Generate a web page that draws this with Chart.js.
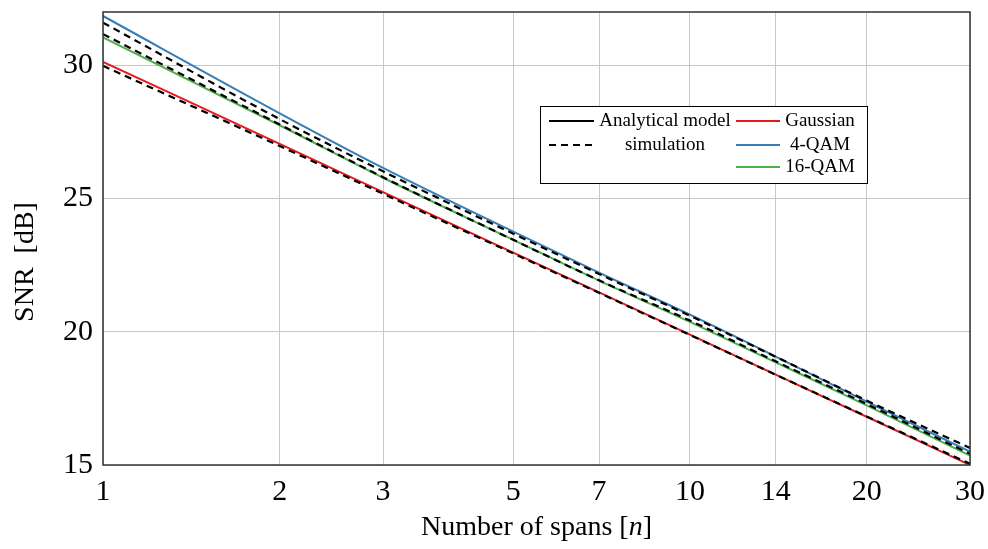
<!DOCTYPE html>
<html>
<head>
<meta charset="utf-8">
<script src="https://cdn.jsdelivr.net/npm/chart.js@4.4.1/dist/chart.umd.min.js"></script>
<style>
  html, body { margin: 0; padding: 0; background: #fff; }
  #wrap { width: 988px; height: 549px; }
</style>
</head>
<body>
<div id="wrap"><canvas id="snrChart" width="988" height="549"></canvas></div>
<script>
// spans (x axis, log)
const spans = [1, 2, 3, 5, 7, 10, 14, 20, 30];
const xTicks = [1, 2, 3, 5, 7, 10, 14, 20, 30];
const yTicks = [15, 20, 25, 30];

// analytical model
const gaussModel = [30.13, 27.05, 25.24, 22.97, 21.48, 19.89, 18.39, 16.81, 15.0];
const qam4Model  = [31.85, 28.2, 26.15, 23.76, 22.22, 20.64, 19.07, 17.38, 15.5];
const qam16Model = [31.05, 27.75, 25.78, 23.45, 21.92, 20.37, 18.85, 17.24, 15.35];

// simulation (dashed)
const gaussSim = [29.98, 26.97, 25.18, 22.94, 21.46, 19.88, 18.39, 16.82, 15.05];
const qam4Sim  = [31.6, 27.98, 26.02, 23.68, 22.17, 20.6, 19.06, 17.42, 15.64];
const qam16Sim = [31.17, 27.78, 25.8, 23.45, 21.93, 20.42, 18.89, 17.29, 15.42];

const RED = '#e41a1c', BLUE = '#377eb8', GREEN = '#4daf4a';
const SERIF = '"Liberation Serif", "DejaVu Serif", serif';

function pts(vals) {
  return spans.map((n, i) => ({ x: n, y: vals[i] }));
}
function simLine(vals) {
  return { data: pts(vals), borderColor: '#000', borderWidth: 2.2, borderDash: [7, 5],
           pointRadius: 0, fill: false, cubicInterpolationMode: 'monotone' };
}
function modelLine(vals, color) {
  return { data: pts(vals), borderColor: color, borderWidth: 2, pointRadius: 0,
           fill: false, cubicInterpolationMode: 'monotone' };
}

// legend + box + axis titles
const decorPlugin = {
  id: 'decor',
  afterDraw(chart) {
    const ctx = chart.ctx;
    const a = chart.chartArea;
    ctx.save();
    // frame
    ctx.strokeStyle = '#333';
    ctx.lineWidth = 1.5;
    ctx.strokeRect(a.left, a.top, a.right - a.left, a.bottom - a.top);

    // legend box
    const bx = 540, by = 106, bw = 327, bh = 77;
    ctx.fillStyle = '#fff';
    ctx.fillRect(bx, by, bw, bh);
    ctx.strokeStyle = '#000';
    ctx.lineWidth = 1;
    ctx.strokeRect(bx + 0.5, by + 0.5, bw, bh);
    ctx.font = '19px ' + SERIF;
    ctx.textAlign = 'center';
    ctx.textBaseline = 'middle';
    const rows = [121, 145, 167];
    const left = [
      { label: 'Analytical model', color: '#000', dash: [] },
      { label: 'simulation', color: '#000', dash: [7, 5] }
    ];
    const right = [
      { label: 'Gaussian', color: RED },
      { label: '4-QAM', color: BLUE },
      { label: '16-QAM', color: GREEN }
    ];
    left.forEach((it, i) => {
      ctx.beginPath();
      ctx.setLineDash(it.dash);
      ctx.strokeStyle = it.color;
      ctx.lineWidth = 2;
      ctx.moveTo(549, rows[i]); ctx.lineTo(594, rows[i]);
      ctx.stroke();
      ctx.setLineDash([]);
      ctx.fillStyle = '#000';
      ctx.fillText(it.label, 665, rows[i]);
    });
    right.forEach((it, i) => {
      ctx.beginPath();
      ctx.strokeStyle = it.color;
      ctx.lineWidth = 2;
      ctx.moveTo(736, rows[i]); ctx.lineTo(780, rows[i]);
      ctx.stroke();
      ctx.fillStyle = '#000';
      ctx.fillText(it.label, 820, rows[i]);
    });

    // x title with italic n
    const F = '28px ' + SERIF, FI = 'italic 28px ' + SERIF;
    ctx.textAlign = 'left';
    ctx.textBaseline = 'middle';
    const p1 = 'Number of spans [', p3 = ']';
    ctx.font = F;
    const w1 = ctx.measureText(p1).width, w3 = ctx.measureText(p3).width;
    ctx.font = FI;
    const w2 = ctx.measureText('n').width;
    const x0 = (a.left + a.right) / 2 - (w1 + w2 + w3) / 2;
    const ty = 528;
    ctx.font = F;
    ctx.fillText(p1, x0, ty);
    ctx.font = FI;
    ctx.fillText('n', x0 + w1, ty);
    ctx.font = F;
    ctx.fillText(p3, x0 + w1 + w2, ty);

    // y title
    ctx.translate(26, 262);
    ctx.rotate(-Math.PI / 2);
    ctx.textAlign = 'center';
    ctx.fillText('SNR  [dB]', 0, 0);
    ctx.restore();
  }
};

new Chart(document.getElementById('snrChart'), {
  type: 'line',
  data: {
    datasets: [
      simLine(qam4Sim),
      simLine(qam16Sim),
      simLine(gaussSim),
      modelLine(qam4Model, BLUE),
      modelLine(qam16Model, GREEN),
      modelLine(gaussModel, RED)
    ]
  },
  options: {
    responsive: false,
    animation: false,
    layout: { padding: { top: 12, right: 18, left: 0, bottom: 0 } },
    plugins: { legend: { display: false }, tooltip: { enabled: false } },
    scales: {
      x: {
        type: 'logarithmic',
        min: 1, max: 30,
        afterBuildTicks: s => { s.ticks = xTicks.map(v => ({ value: v })); },
        afterFit: s => { s.height = 84; s.paddingLeft = 0; s.paddingRight = 0; },
        grid: { color: '#c8c8c8', lineWidth: 1, drawTicks: false },
        border: { display: false },
        ticks: {
          color: '#000', padding: 9, maxRotation: 0, autoSkip: false,
          font: { family: SERIF, size: 30 },
          callback: v => String(v)
        }
      },
      y: {
        type: 'linear',
        min: 15, max: 32,
        afterBuildTicks: s => { s.ticks = yTicks.map(v => ({ value: v })); },
        afterFit: s => { s.width = 103; s.paddingTop = 0; s.paddingBottom = 0; },
        grid: { color: '#c8c8c8', lineWidth: 1, drawTicks: false },
        border: { display: false },
        ticks: {
          color: '#000', padding: 10,
          font: { family: SERIF, size: 30 },
          callback: v => String(v)
        }
      }
    }
  },
  plugins: [decorPlugin]
});
</script>
</body>
</html>
